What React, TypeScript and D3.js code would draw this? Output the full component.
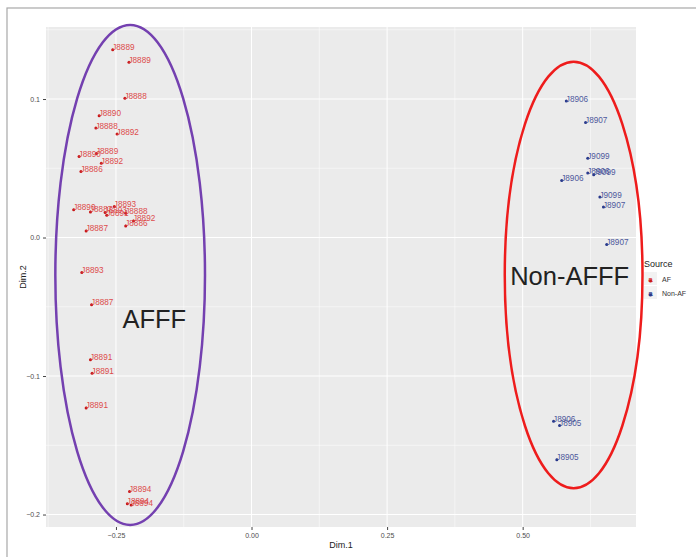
import React, { useEffect, useRef } from 'react';
import * as d3 from 'd3';

interface Pt { label: string; x: number; y: number; source: string; }

// AF samples (Dim.1, Dim.2)
const afLabels = [
  'J8889', 'J8889', 'J8888', 'J8890', 'J8888', 'J8892', 'J8889', 'J8890', 'J8892', 'J8886',
  'J8890', 'J8887', 'J8893', 'J8891', 'J8893', 'J8888', 'J8892', 'J8886', 'J8887', 'J8893',
  'J8887', 'J8891', 'J8891', 'J8891', 'J8894', 'J8894', 'J8894',
];
const afX = [
  -0.256, -0.226, -0.2335, -0.281, -0.287, -0.248, -0.286, -0.318, -0.277, -0.3146,
  -0.328, -0.297, -0.270, -0.267, -0.253, -0.232, -0.2177, -0.232, -0.305, -0.313,
  -0.295, -0.297, -0.294, -0.305, -0.225, -0.229, -0.222,
];
const afY = [
  0.1355, 0.1266, 0.1006, 0.088, 0.079, 0.0747, 0.0607, 0.0585, 0.0537, 0.0477,
  0.0200, 0.0185, 0.0180, 0.0160, 0.0224, 0.0176, 0.0120, 0.0084, 0.0048, -0.0253,
  -0.0486, -0.0883, -0.0980, -0.1230, -0.1834, -0.1923, -0.1932,
];

// Non-AF samples
const nonLabels = [
  'J8906', 'J8907', 'J9099', 'J8906', 'J9099', 'J8906', 'J9099', 'J8907', 'J8907',
  'J8906', 'J8905', 'J8905',
];
const nonX = [0.5805, 0.616, 0.620, 0.620, 0.631, 0.572, 0.6424, 0.649, 0.655, 0.557, 0.568, 0.563];
const nonY = [0.0985, 0.083, 0.0573, 0.0465, 0.0453, 0.0412, 0.0292, 0.022, -0.005, -0.1326, -0.1357, -0.1605];

const xTicks = [-0.25, 0, 0.25, 0.5];
const yTicks = [-0.2, -0.1, 0, 0.1];
const xMinor = [-0.375, -0.125, 0.125, 0.375, 0.625];
const yMinor = [-0.15, -0.05, 0.05, 0.15];

const sources = ['AF', 'Non-AF'];
const textColors = ['#dc3a3a', '#3b4a94'];
const dotColors = ['#c81818', '#27368a'];

// hand-drawn group ellipses, in data units
const groups = [
  { name: 'AFFF', cx: -0.2238, cy: -0.027, rx: 0.138, ry: 0.1805, color: '#7440b0', tx: -0.238, ty: -0.065 },
  { name: 'Non-AFFF', cx: 0.594, cy: -0.027, rx: 0.127, ry: 0.154, color: '#ee1c1c', tx: 0.477, ty: -0.0345 },
];

const points: Pt[] = [
  ...afLabels.map((l, i) => ({ label: l, x: afX[i], y: afY[i], source: 'AF' })),
  ...nonLabels.map((l, i) => ({ label: l, x: nonX[i], y: nonY[i], source: 'Non-AF' })),
];

const App: React.FC = () => {
  const svgRef = useRef<SVGSVGElement>(null);

  useEffect(() => {
    if (!svgRef.current) return;
    const svg = d3.select(svgRef.current);
    svg.selectAll('*').remove();

    const font = 'Liberation Sans, Arial, sans-serif';
    const panel = { left: 46, right: 636, top: 27, bottom: 527 };

    const xScale = d3.scaleLinear().domain([-0.379, 0.709]).range([panel.left, panel.right]);
    const yScale = d3.scaleLinear().domain([-0.209, 0.152]).range([panel.bottom, panel.top]);
    const color = d3.scaleOrdinal<string, string>().domain(sources).range(textColors);
    const dotColor = d3.scaleOrdinal<string, string>().domain(sources).range(dotColors);

    svg.append('rect')
      .attr('width', 696).attr('height', 557).attr('fill', '#fff');

    svg.append('rect')
      .attr('x', 7).attr('y', 8).attr('width', 720).attr('height', 600)
      .attr('fill', 'none').attr('stroke', '#a8a8a8').attr('stroke-width', 1.2);

    svg.append('rect')
      .attr('x', panel.left).attr('y', panel.top)
      .attr('width', panel.right - panel.left).attr('height', panel.bottom - panel.top)
      .attr('fill', '#ebebeb');

    const grid = svg.append('g');
    xMinor.forEach(v => {
      grid.append('line').attr('x1', xScale(v)).attr('x2', xScale(v))
        .attr('y1', panel.top).attr('y2', panel.bottom)
        .attr('stroke', '#fff').attr('stroke-width', 0.5);
    });
    yMinor.forEach(v => {
      if (yScale(v) < panel.top) return;
      grid.append('line').attr('y1', yScale(v)).attr('y2', yScale(v))
        .attr('x1', panel.left).attr('x2', panel.right)
        .attr('stroke', '#fff').attr('stroke-width', 0.5);
    });
    xTicks.forEach(v => {
      grid.append('line').attr('x1', xScale(v)).attr('x2', xScale(v))
        .attr('y1', panel.top).attr('y2', panel.bottom)
        .attr('stroke', '#fff').attr('stroke-width', 1);
    });
    yTicks.forEach(v => {
      grid.append('line').attr('y1', yScale(v)).attr('y2', yScale(v))
        .attr('x1', panel.left).attr('x2', panel.right)
        .attr('stroke', '#fff').attr('stroke-width', 1);
    });

    // axes
    svg.append('g')
      .attr('transform', `translate(0,${panel.bottom})`)
      .call(d3.axisBottom(xScale).tickValues(xTicks).tickSize(3).tickPadding(3)
        .tickFormat(d => d3.format('.2f')(d as number)))
      .call((g: any) => g.select('.domain').remove())
      .call((g: any) => g.selectAll('line').attr('stroke', '#444'))
      .call((g: any) => g.selectAll('text').attr('fill', '#4d4d4d').attr('font-size', '7px').attr('font-family', font));

    svg.append('g')
      .attr('transform', `translate(${panel.left},0)`)
      .call(d3.axisLeft(yScale).tickValues(yTicks).tickSize(3).tickPadding(3)
        .tickFormat(d => d3.format('.1f')(d as number)))
      .call((g: any) => g.select('.domain').remove())
      .call((g: any) => g.selectAll('line').attr('stroke', '#444'))
      .call((g: any) => g.selectAll('text').attr('fill', '#4d4d4d').attr('font-size', '7px').attr('font-family', font));

    svg.append('text')
      .attr('x', (panel.left + panel.right) / 2).attr('y', 548)
      .attr('text-anchor', 'middle').attr('font-family', font)
      .style('font-size', '9px').style('fill', '#222')
      .text('Dim.1');

    svg.append('text')
      .attr('transform', `translate(26,${(panel.top + panel.bottom) / 2}) rotate(-90)`)
      .attr('text-anchor', 'middle').attr('font-family', font)
      .style('font-size', '9px').style('fill', '#222')
      .text('Dim.2');

    // points + labels
    const pg = svg.append('g');
    pg.selectAll('circle')
      .data(points).enter().append('circle')
      .attr('cx', d => xScale(d.x)).attr('cy', d => yScale(d.y))
      .attr('r', 1.5).attr('fill', d => dotColor(d.source));

    pg.selectAll('text')
      .data(points).enter().append('text')
      .attr('x', d => xScale(d.x) - 0.5).attr('y', d => yScale(d.y) + 0.5)
      .attr('font-family', font).style('font-size', '8.2px')
      .style('fill', d => color(d.source)).style('opacity', 0.9)
      .text(d => d.label);

    // group ellipses and names
    groups.forEach(gr => {
      svg.append('ellipse')
        .attr('cx', xScale(gr.cx)).attr('cy', yScale(gr.cy))
        .attr('rx', xScale(gr.cx + gr.rx) - xScale(gr.cx))
        .attr('ry', yScale(gr.cy) - yScale(gr.cy + gr.ry))
        .attr('fill', 'none').attr('stroke', gr.color).attr('stroke-width', 2.5);
      svg.append('text')
        .attr('x', xScale(gr.tx)).attr('y', yScale(gr.ty))
        .attr('font-family', font).style('font-size', '25.5px').style('fill', '#222')
        .text(gr.name);
    });

    // legend
    const legend = svg.append('g').attr('transform', 'translate(644,0)');
    legend.append('text')
      .attr('x', 0).attr('y', 267)
      .attr('font-family', font).style('font-size', '9px').style('fill', '#222')
      .text('Source');
    sources.forEach((s, i) => {
      const row = legend.append('g').attr('transform', `translate(0,${272 + i * 14})`);
      row.append('rect').attr('width', 13).attr('height', 13).attr('fill', '#f2f2f2');
      row.append('text')
        .attr('x', 6.5).attr('y', 9.5).attr('text-anchor', 'middle')
        .attr('font-family', font).style('font-size', '8px').style('font-weight', 'bold')
        .style('fill', color(s)).text('a');
      row.append('circle').attr('cx', 6.5).attr('cy', 9).attr('r', 1.5).attr('fill', dotColor(s));
      row.append('text')
        .attr('x', 18).attr('y', 9.5)
        .attr('font-family', font).style('font-size', '7px').style('fill', '#333')
        .text(s);
    });
  }, []);

  return (
    <svg
      ref={svgRef}
      width={696}
      height={557}
      style={{ position: 'absolute', left: 0, top: 0, display: 'block' }}
    />
  );
};

export default App;
